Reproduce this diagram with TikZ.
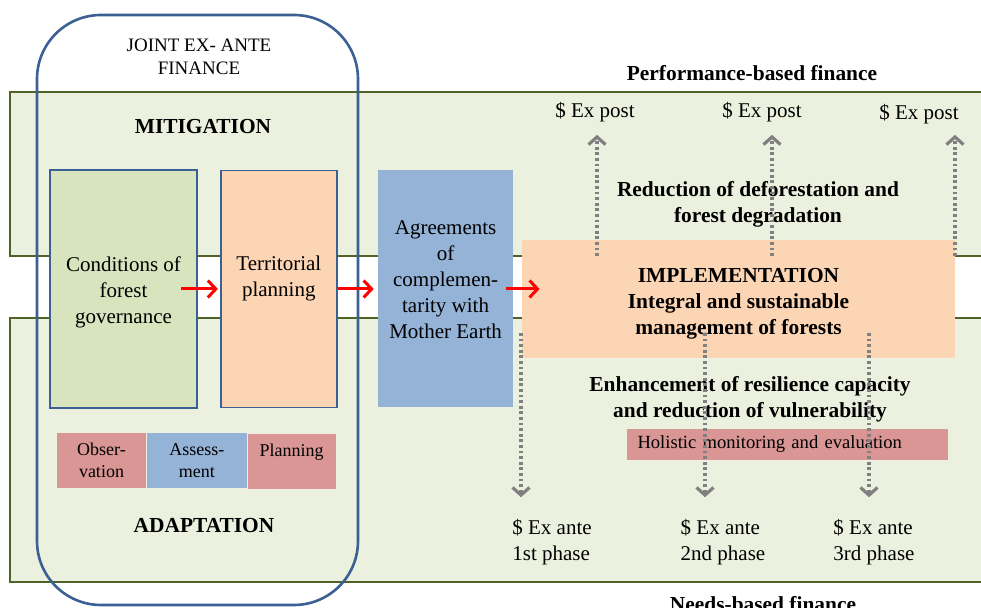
\documentclass[tikz,border=0pt]{standalone}
\usepackage{fontspec}
\setmainfont{Liberation Serif}
\usetikzlibrary{arrows.meta, positioning}
\usepackage{xcolor}

\definecolor{bandfill}{HTML}{EBF1DE}
\definecolor{bandline}{HTML}{4F6228}
\definecolor{jointline}{HTML}{3A6094}
\definecolor{govfill}{HTML}{D7E4BD}
\definecolor{peach}{HTML}{FCD5B5}
\definecolor{skyblue}{HTML}{95B3D7}
\definecolor{rose}{HTML}{D99694}
\definecolor{dotgray}{HTML}{808080}

\begin{document}
\begin{tikzpicture}[
        x=0.5pt, y=-0.5pt,
        every node/.style={font=\fontsize{10.5}{13}\selectfont},
        band/.style={draw=bandline, line width=1pt, fill=bandfill},
        joint/.style={draw=jointline, line width=1.3pt, rounded corners=32pt},
        block/.style={rectangle, draw=jointline, line width=0.9pt, align=center, inner sep=2pt},
        flatblock/.style={rectangle, align=center, inner sep=2pt},
        cell/.style={rectangle, align=center, inner sep=1pt, minimum height=27.5pt, font=\fontsize{9}{11}\selectfont},
        headtext/.style={align=center, font=\fontsize{10.7}{13}\selectfont\bfseries},
        finlabel/.style={align=left, inner sep=2pt},
        redarrow/.style={red, line width=1.5pt, -{Straight Barb[length=4pt, width=8.5pt]}},
        dotarrow/.style={dotgray, line width=1.6pt, dash pattern=on 1.4pt off 1.4pt, -{Straight Barb[length=3.8pt, width=8.5pt]}}
    ]

        \clip (0,0) rectangle (981,608);

        % mitigation and adaptation bands
        \draw [band] (10,92) rectangle (995,256);
        \draw [band] (10,318) rectangle (995,582);

        % joint ex-ante frame
        \draw [joint] (37,15) rectangle (358,605);
        \node [align=center, font=\fontsize{9.5}{11.5}\selectfont] (jointtitle) at (199,57) {JOINT EX- ANTE\\FINANCE};
        \node [headtext] (mitig) at (203,127) {MITIGATION};
        \node [headtext] (adapt) at (204,526) {ADAPTATION};

        % process chain
        \node [block, fill=govfill, minimum width=73.5pt, minimum height=119pt] (gov) at (123.5,289) {\rule{0pt}{11pt}Conditions of\\forest\\governance};
        \node [block, fill=peach, minimum width=58pt, minimum height=118.5pt, right=11pt of gov] (plan) {Territorial\\planning\\\mbox{}};
        \node [flatblock, fill=skyblue, minimum width=67.5pt, minimum height=118.5pt, right=20pt of plan] (agree) {Agreements\\of\\complemen-\\tarity with\\Mother Earth\\[-4pt]\mbox{}};
        \node [flatblock, fill=peach, minimum width=216.5pt, minimum height=59pt, font=\fontsize{10.7}{13}\selectfont\bfseries] (impl) at (738.5,299) {\rule{0pt}{12pt}IMPLEMENTATION\\Integral and sustainable\\management of forests};

        \node [cell, fill=rose, minimum width=44.5pt] (obs) at (101.5,460.5) {Obser-\\vation};
        \node [cell, fill=skyblue, minimum width=50pt, right=0pt of obs] (assess) {Assess-\\ment};
        \node [cell, fill=rose, minimum width=44pt, right=0pt of assess, yshift=-0.5pt] (planbox) {Planning\\\mbox{}};

        % finance labels
        \node [headtext] (perf) at (752,73) {Performance-based finance};
        \node [headtext, anchor=base] (needs) at (763,612) {Needs-based finance};
        \node [finlabel] (ep1) at (595,112) {\$ Ex post};
        \node [finlabel] (ep2) at (762,112) {\$ Ex post};
        \node [finlabel] (ep3) at (919,114) {\$ Ex post};
        \node [finlabel] (xa1) at (552,542.5) {\$ Ex ante\\1st phase};
        \node [finlabel] (xa2) at (723,542.5) {\$ Ex ante\\2nd phase};
        \node [finlabel] (xa3) at (874,542.5) {\$ Ex ante\\3rd phase};

        \node [headtext] (reduce) at (758,204) {Reduction of deforestation and\\forest degradation};
        \node [headtext] (resil) at (750,399.5) {Enhancement of resilience capacity\\and reduction of vulnerability};
        \node [cell, fill=rose, minimum width=160.5pt, minimum height=15.5pt, text width=150pt, align=left, font=\fontsize{9.3}{11}\selectfont] (holi) at (787.5,444.5) {Holistic monitoring and evaluation};

        % flow arrows
        \draw [redarrow] ([xshift=-8.5pt]gov.east) -- ([xshift=-1pt]plan.west);
        \draw [redarrow] (plan.east) -- ([xshift=-2pt]agree.west);
        \draw [redarrow] ([xshift=-4pt]agree.east) -- ([xshift=9pt]agree.east -| impl.west);

        % payments
        \coordinate (u1) at (597,256);
        \coordinate (u2) at (772,256);
        \coordinate (u3) at (955,256);
        \coordinate (d1) at (521,333);
        \coordinate (d2) at (705,333);
        \coordinate (d3) at (869,333);
        \draw [dotarrow] (u1) -- ([yshift=-4.3pt]ep1.south -| u1);
        \draw [dotarrow] (u2) -- ([yshift=-4.3pt]ep2.south -| u2);
        \draw [dotarrow] (u3) -- ([yshift=-3.3pt]ep3.south -| u3);
        \draw [dotarrow] (d1) -- ([yshift=9pt]xa1.north -| d1);
        \draw [dotarrow] (d2) -- ([yshift=9pt]xa2.north -| d2);
        \draw [dotarrow] (d3) -- ([yshift=9pt]xa3.north -| d3);
    \end{tikzpicture}
\end{document}
